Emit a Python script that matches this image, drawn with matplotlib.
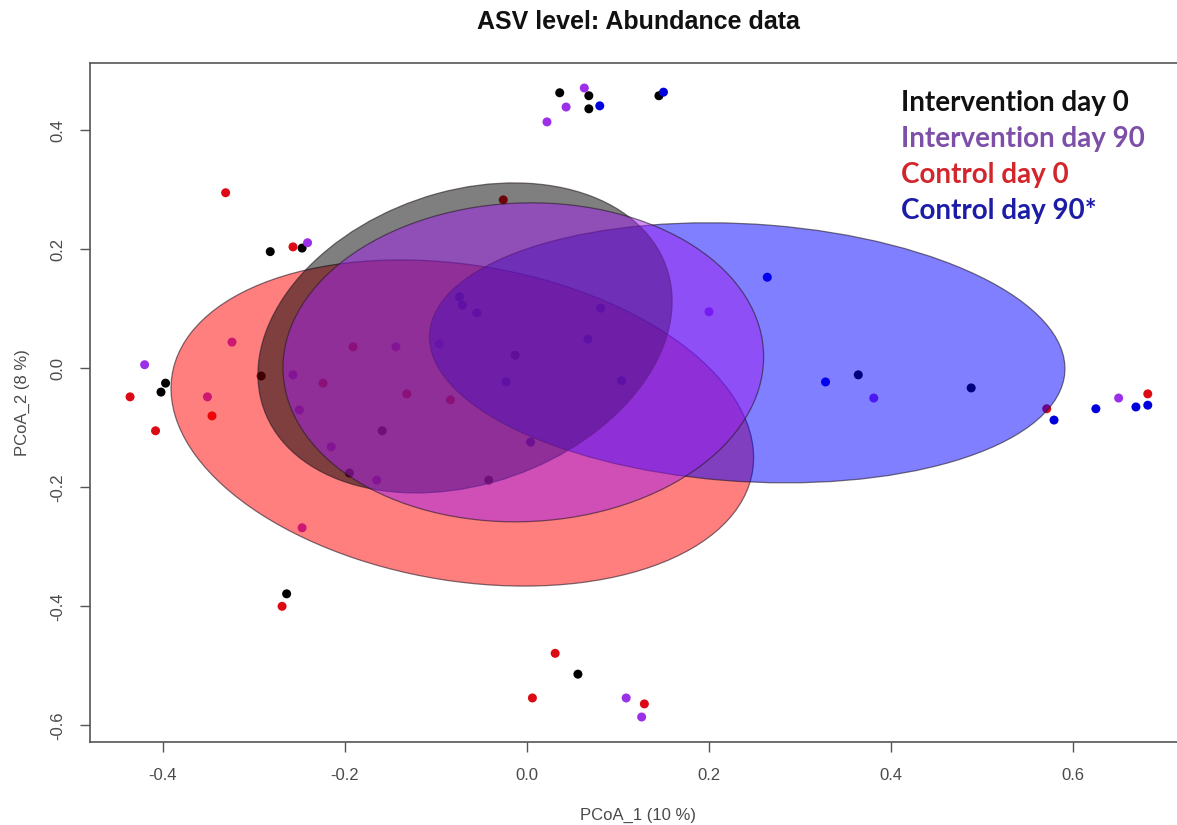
import numpy as np
import matplotlib
matplotlib.use('Agg')
import matplotlib.pyplot as plt
from matplotlib.patches import Ellipse

# PCoA scores per group
black_x = [0.036, 0.068, 0.068, 0.145, -0.282, -0.247, -0.397, -0.402, -0.264, 0.056,
           -0.292, -0.195, 0.364, 0.488, -0.013, -0.159, -0.042]
black_y = [0.463, 0.458, 0.436, 0.458, 0.196, 0.202, -0.025, -0.040, -0.379, -0.514,
           -0.013, -0.176, -0.011, -0.033, 0.022, -0.105, -0.188]

purple_x = [0.063, 0.043, 0.022, -0.241, -0.420, 0.109, 0.126, 0.650, -0.324, -0.351,
            -0.247, 0.381, 0.200, -0.096, -0.144, -0.257, -0.250, -0.215, -0.165]
purple_y = [0.471, 0.439, 0.414, 0.211, 0.006, -0.554, -0.586, -0.050, 0.044, -0.048,
            -0.268, -0.050, 0.095, 0.041, 0.036, -0.011, -0.070, -0.132, -0.188]

red_x = [-0.026, -0.331, -0.257, -0.436, -0.408, -0.346, -0.269, 0.031, 0.006, 0.129,
         0.682, 0.571, -0.191, -0.224, -0.132, -0.084]
red_y = [0.283, 0.295, 0.204, -0.048, -0.105, -0.080, -0.400, -0.479, -0.554, -0.564,
         -0.043, -0.068, 0.036, -0.025, -0.043, -0.053]

blue_x = [0.080, 0.150, 0.264, 0.328, 0.579, 0.625, 0.669, 0.682, -0.074, -0.071,
          -0.055, -0.023, 0.067, 0.081, 0.104, 0.004]
blue_y = [0.441, 0.464, 0.153, -0.023, -0.087, -0.068, -0.065, -0.062, 0.120, 0.106,
          0.093, -0.023, 0.049, 0.101, -0.021, -0.124]

# ellipses: centre, half extent in x and y, covariance term
ell_groups = ['red', 'blue', 'black', 'purple']
ell_cx = [-0.071, 0.242, -0.068, -0.004]
ell_cy = [-0.092, 0.026, 0.051, 0.010]
ell_hx = [0.320, 0.349, 0.2275, 0.264]
ell_hy = [0.274, 0.2185, 0.2605, 0.268]
ell_c = [-0.0186, -0.0093, 0.014, 0.0024]

labels = ['Intervention day 0', 'Intervention day 90', 'Control day 0', 'Control day 90*']
label_cols = ['#111111', '#7d4fa8', '#d3262c', '#1c1ca6']

pt_cols = {'black': '#000000', 'purple': '#9b30e8', 'red': '#dc0a14', 'blue': '#0000dd'}
fill_cols = {'black': '#000000', 'purple': '#a020f0', 'red': '#ff0000', 'blue': '#0000ff'}

fig = plt.figure(figsize=(11.77, 8.25), dpi=100)
ax = fig.add_axes([90 / 1177, 83 / 825, (1186 - 90) / 1177, (742 - 63) / 825])

for xs, ys, g in [(black_x, black_y, 'black'), (purple_x, purple_y, 'purple'),
                  (red_x, red_y, 'red'), (blue_x, blue_y, 'blue')]:
    ax.scatter(xs, ys, s=42, color=pt_cols[g], edgecolors='none', zorder=2)

for i, g in enumerate(ell_groups):
    cov = np.array([[ell_hx[i] ** 2, ell_c[i]], [ell_c[i], ell_hy[i] ** 2]])
    vals, vecs = np.linalg.eigh(cov)
    ang = np.degrees(np.arctan2(vecs[1, 1], vecs[0, 1]))
    e = Ellipse((ell_cx[i], ell_cy[i]), 2 * np.sqrt(vals[1]), 2 * np.sqrt(vals[0]),
                angle=ang, facecolor=fill_cols[g], alpha=0.5,
                edgecolor='none', zorder=3 + i)
    ax.add_patch(e)
    e2 = Ellipse((ell_cx[i], ell_cy[i]), 2 * np.sqrt(vals[1]), 2 * np.sqrt(vals[0]),
                 angle=ang, facecolor='none', edgecolor=(0.15, 0.1, 0.15, 0.6),
                 lw=0.9, zorder=3 + i)
    ax.add_patch(e2)

ax.set_xlim(-0.480, 0.724)
ax.set_ylim(-0.628, 0.513)
ax.set_xticks([-0.4, -0.2, 0.0, 0.2, 0.4, 0.6])
ax.set_xticklabels(['-0.4', '-0.2', '0.0', '0.2', '0.4', '0.6'])
ax.set_yticks([-0.6, -0.4, -0.2, 0.0, 0.2, 0.4])
ax.set_yticklabels(['-0.6', '-0.4', '-0.2', '0.0', '0.2', '0.4'], rotation=90, va='center')
ax.tick_params(direction='out', length=7.5, width=1, color='#555555',
               labelcolor='#4a4a4a', labelsize=12, pad=10)
ax.tick_params(axis='x', pad=11)
for s in ax.spines.values():
    s.set_color('#555555')
    s.set_linewidth(1.2)

tfont = 'Liberation Sans'
for t in ax.get_xticklabels() + ax.get_yticklabels():
    t.set_family(tfont)
ax.set_xlabel('PCoA_1 (10 %)', fontsize=12, color='#4a4a4a', family=tfont, labelpad=18)
ax.set_ylabel('PCoA_2 (8 %)', fontsize=12, color='#4a4a4a', family=tfont, labelpad=15)

fig.text(638 / 1177, 1 - 22 / 825, 'ASV level: Abundance data', ha='center', va='center',
         fontsize=18, fontweight='bold', family=tfont, color='#111111')

for k, (lab, col) in enumerate(zip(labels, label_cols)):
    fig.text(901 / 1177, 1 - (103 + 36 * k) / 825, lab, ha='left', va='center',
             fontsize=20, fontweight='bold', family='Lato', color=col)

fig.savefig('out.png', dpi=100)
